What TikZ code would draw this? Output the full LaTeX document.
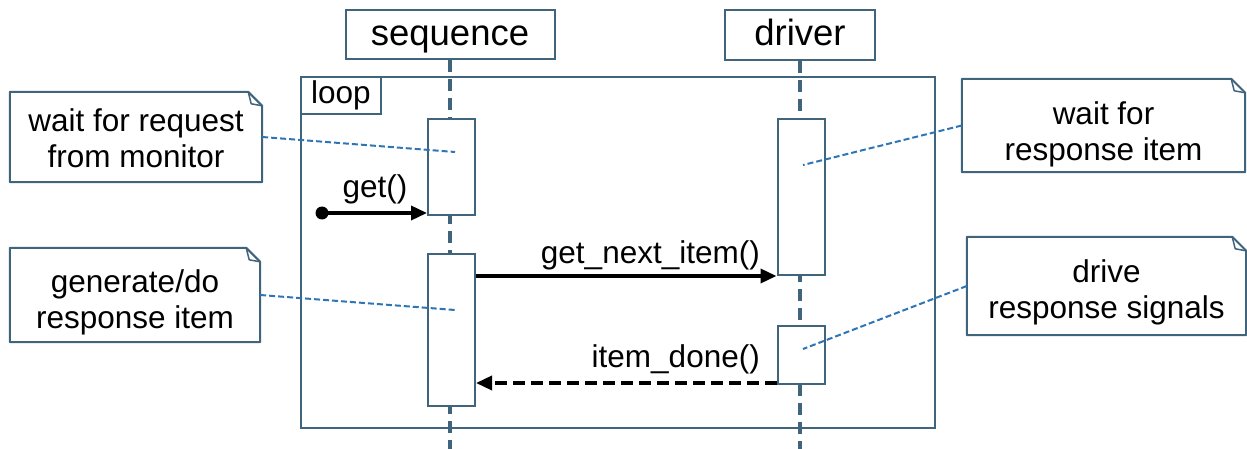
\documentclass[tikz,border=0pt]{standalone}
\usepackage{fontspec}
\setmainfont{Liberation Sans}
\usetikzlibrary{arrows.meta,calc}
\definecolor{frame}{HTML}{41647D}
\definecolor{link}{HTML}{2E75B6}

% outline of a UML note with a folded top-right corner
\newcommand\foldednote[1]{%
  \draw[frame,line width=2pt,line join=round]
    (#1.south west) -- (#1.north west) -- ([xshift=-14pt]#1.north east)
    -- ([yshift=-14pt]#1.north east) -- (#1.south east) -- cycle;
  \draw[frame,line width=1.5pt,line join=round]
    ([xshift=-14pt]#1.north east) -- ([xshift=-11pt,yshift=-12pt]#1.north east)
    -- ([yshift=-14pt]#1.north east);
}

\begin{document}
\begin{tikzpicture}[x=1pt,y=-1pt,
  box/.style={draw=frame,line width=2pt,fill=white,inner sep=0pt},
  head/.style={box,font=\fontsize{36.5}{40}\selectfont,text height=28pt,text depth=6pt},
  act/.style={box,minimum width=47pt},
  notebox/.style={inner sep=0pt},
  notetext/.style={inner sep=0pt,align=center,font=\fontsize{31.5}{35.5}\selectfont},
  lbl/.style={font=\fontsize{31.5}{35.5}\selectfont,inner sep=0pt},
  msg/.style={line width=3.5pt,-{Triangle[length=16pt,width=14pt]}},
  reply/.style={msg,dash pattern=on 12pt off 6pt},
  lifeline/.style={draw=frame,line width=4pt,dash pattern=on 12pt off 7pt},
  anchorline/.style={draw=link,line width=2pt,dash pattern=on 6pt off 3pt}
]
\useasboundingbox (0,0) rectangle (1247,449);

% combined fragment
\node[draw=frame,line width=2pt,inner sep=0pt,minimum width=634pt,minimum height=351pt]
  (loopframe) at (618,252.5) {};
\node[box,anchor=north west,minimum width=80pt,minimum height=37pt,
  font=\fontsize{31.5}{35.5}\selectfont] (looptag) at (loopframe.north west) {loop};

% lifeline heads
\node[head,minimum width=209pt,minimum height=49pt] (seq) at (450,34.5) {sequence};
\node[head,minimum width=150pt,minimum height=50pt] (drv) at (800,35) {driver};
\coordinate (seqend) at (450,449);
\coordinate (drvend) at (800,449);
\draw[lifeline] (seq.south) -- (seqend);
\draw[lifeline] (drv.south) -- (drvend);

% activation bars
\node[act,minimum height=96pt]  (seqA1) at (451.5,167) {};
\node[act,minimum height=152pt] (seqA2) at (451.5,330) {};
\node[act,minimum height=156pt] (drvA1) at (801,197) {};
\node[act,minimum height=58pt]  (drvA2) at (801,355) {};

% notes
\node[notebox,minimum width=252pt,minimum height=90pt] (n1) at (136,137) {};
\node[notebox,minimum width=250pt,minimum height=94pt] (n2) at (135,295) {};
\node[notebox,minimum width=283pt,minimum height=93pt] (n3) at (1103.5,125.5) {};
\node[notebox,minimum width=279pt,minimum height=98pt] (n4) at (1106.5,286) {};
\foldednote{n1}
\foldednote{n2}
\foldednote{n3}
\foldednote{n4}
\node[notetext] at ([yshift=-1pt]n1.center) {wait for request\\from monitor};
\node[notetext] at ([yshift=-7.5pt]n2.center) {generate/do\\response item};
\node[notetext] at ([yshift=-9pt]n3.center) {wait for\\response item};
\node[notetext] at ([yshift=-6.5pt]n4.center) {drive\\response signals};

% note anchors
\coordinate (c1) at (455,152);
\coordinate (c2) at (455,310);
\coordinate (c3) at (803,165);
\coordinate (c4) at (803,349);
\draw[anchorline] (n1.east) -- (c1);
\draw[anchorline] (n2.east) -- (c2);
\draw[anchorline] (n3.west) -- (c3);
\draw[anchorline] (n4.west) -- (c4);

% messages
\coordinate (found) at (322,213);
\fill (found) circle (6.5pt);
\draw[msg] (found) -- (seqA1.west |- found);
\node[lbl,anchor=base] (getlbl) at (375,197) {get()};

\draw[msg] (seqA2.east |- drvA1.south west) -- (drvA1.south west);
\node[lbl,anchor=base east] (nextlbl) at (760,263) {get\_next\_item()};

\coordinate (donestart) at ([yshift=2pt]drvA2.south west);
\draw[reply] (donestart) -- (seqA2.east |- donestart);
\node[lbl,anchor=base east] (donelbl) at (760,367) {item\_done()};
\end{tikzpicture}
\end{document}
